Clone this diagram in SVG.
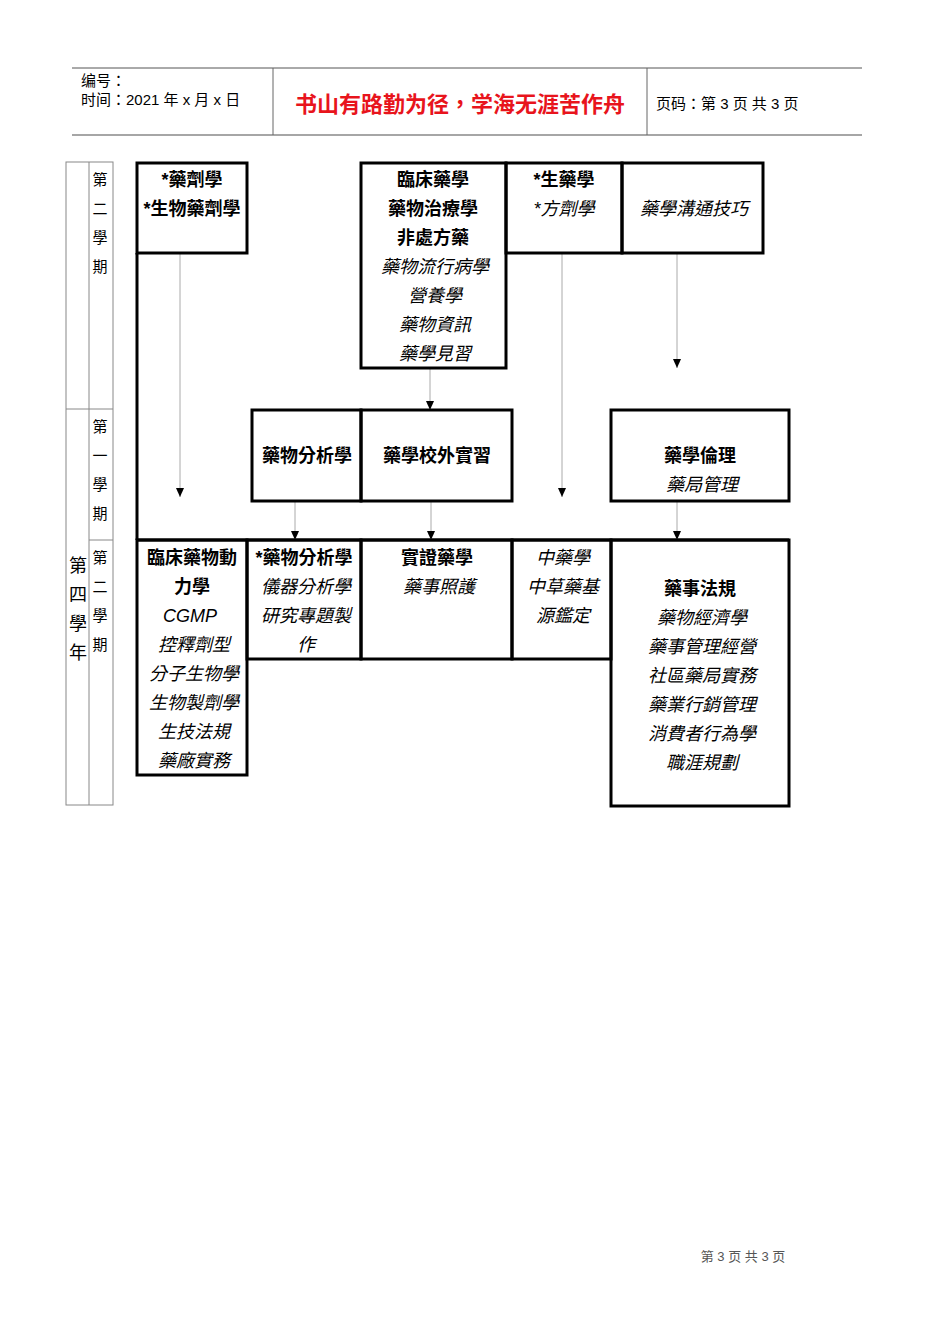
<svg xmlns="http://www.w3.org/2000/svg" width="950" height="1344" viewBox="0 0 950 1344">
<style>
text{font-family:"Liberation Sans","Noto Sans CJK TC",sans-serif;fill:#000}
.t{font-size:18px;text-anchor:middle}
.b{font-weight:bold}
.i{font-style:italic}
.box{fill:none;stroke:#000;stroke-width:3}
.thin{stroke:#888;stroke-width:1;fill:none}
.cn{stroke:#aaa;stroke-width:1;fill:none;marker-end:url(#ah)}
.side{font-size:15px;text-anchor:middle}
</style>
<defs><marker id="ah" markerWidth="10" markerHeight="10" refX="9" refY="5" orient="auto" markerUnits="userSpaceOnUse"><path d="M0,1 L9,5 L0,9 Z" fill="#000"/></marker></defs>
<rect width="950" height="1344" fill="#fff"/>
<g id="header">
<line x1="72" y1="68" x2="862" y2="68" stroke="#555" stroke-width="1"/>
<line x1="72" y1="135" x2="862" y2="135" stroke="#888" stroke-width="1.5"/>
<line x1="273" y1="68" x2="273" y2="135" stroke="#666"/>
<line x1="647" y1="68" x2="647" y2="135" stroke="#666"/>
<text x="81" y="86" font-size="15">编号：</text>
<text x="81" y="105" font-size="15">时间：2021 年 x 月 x 日</text>
<text x="460" y="112" font-size="22" font-weight="bold" fill="#e00" style="fill:#e8141c" text-anchor="middle">书山有路勤为径，学海无涯苦作舟</text>
<text x="656" y="109" font-size="15">页码：第 3 页  共 3 页</text>
</g>
<g id="sidebar">
<rect x="66" y="162" width="47" height="643" class="thin"/>
<line x1="89" y1="162" x2="89" y2="805" class="thin"/>
<line x1="66" y1="409" x2="113" y2="409" class="thin"/>
<line x1="89" y1="540" x2="113" y2="540" class="thin"/>
<text class="side" x="100" y="185">第</text><text class="side" x="100" y="214">二</text><text class="side" x="100" y="243">學</text><text class="side" x="100" y="272">期</text>
<text class="side" x="100" y="432">第</text><text class="side" x="100" y="461">一</text><text class="side" x="100" y="490">學</text><text class="side" x="100" y="519">期</text>
<text class="side" x="100" y="563">第</text><text class="side" x="100" y="592">二</text><text class="side" x="100" y="621">學</text><text class="side" x="100" y="650">期</text>
<text x="78" y="572" font-size="18" text-anchor="middle">第</text><text x="78" y="601" font-size="18" text-anchor="middle">四</text><text x="78" y="630" font-size="18" text-anchor="middle">學</text><text x="78" y="659" font-size="18" text-anchor="middle">年</text>
</g>
<g id="connectors">
<line x1="137" y1="253" x2="137" y2="540" stroke="#000" stroke-width="3"/>
<line x1="137" y1="540" x2="789" y2="540" stroke="#000" stroke-width="3"/>
<line class="cn" x1="180" y1="253" x2="180" y2="497"/>
<line class="cn" x1="430" y1="368" x2="430" y2="410"/>
<line class="cn" x1="562" y1="253" x2="562" y2="497"/>
<line class="cn" x1="677" y1="253" x2="677" y2="368"/>
<line class="cn" x1="295" y1="501" x2="295" y2="540"/>
<line class="cn" x1="431" y1="501" x2="431" y2="540"/>
<line class="cn" x1="677" y1="501" x2="677" y2="540"/>
</g>
<g id="n1"><rect class="box" x="137" y="163" width="110" height="90"/>
<text class="t b" x="192" y="186">*藥劑學</text><text class="t b" x="192" y="215">*生物藥劑學</text></g>
<g id="n2"><rect class="box" x="361" y="163" width="145" height="205"/>
<text class="t b" x="433" y="186">臨床藥學</text><text class="t b" x="433" y="215">藥物治療學</text><text class="t b" x="433" y="244">非處方藥</text>
<text class="t i" x="435" y="273">藥物流行病學</text><text class="t i" x="435" y="302">營養學</text><text class="t i" x="435" y="331">藥物資訊</text><text class="t i" x="435" y="360">藥學見習</text></g>
<g id="n3"><rect class="box" x="506" y="163" width="116" height="90"/>
<text class="t b" x="564" y="186">*生藥學</text><text class="t i" x="564" y="215">*方劑學</text></g>
<g id="n4"><rect class="box" x="622" y="163" width="141" height="90"/>
<text class="t i" x="694" y="215">藥學溝通技巧</text></g>
<g id="n5"><rect class="box" x="252" y="410" width="109" height="91"/>
<text class="t b" x="307" y="462">藥物分析學</text></g>
<g id="n6"><rect class="box" x="361" y="410" width="151" height="91"/>
<text class="t b" x="437" y="462">藥學校外實習</text></g>
<g id="n7"><rect class="box" x="611" y="410" width="178" height="91"/>
<text class="t b" x="700" y="462">藥學倫理</text><text class="t i" x="702" y="491">藥局管理</text></g>
<g id="n8"><rect class="box" x="137" y="540" width="110" height="235"/>
<text class="t b" x="192" y="564">臨床藥物動</text><text class="t b" x="192" y="593">力學</text><text class="t i" x="190" y="622">CGMP</text>
<text class="t i" x="194" y="651">控釋劑型</text><text class="t i" x="194" y="680">分子生物學</text><text class="t i" x="194" y="709">生物製劑學</text><text class="t i" x="194" y="738">生技法規</text><text class="t i" x="194" y="767">藥廠實務</text></g>
<g id="n9"><rect class="box" x="247" y="540" width="114" height="119"/>
<text class="t b" x="304" y="564">*藥物分析學</text><text class="t i" x="306" y="593">儀器分析學</text><text class="t i" x="306" y="622">研究專題製</text><text class="t i" x="306" y="651">作</text></g>
<g id="n10"><rect class="box" x="361" y="540" width="151" height="119"/>
<text class="t b" x="437" y="564">實證藥學</text><text class="t i" x="439" y="593">藥事照護</text></g>
<g id="n11"><rect class="box" x="512" y="540" width="99" height="119"/>
<text class="t i" x="563" y="564">中藥學</text><text class="t i" x="563" y="593">中草藥基</text><text class="t i" x="563" y="622">源鑑定</text></g>
<g id="n12"><rect class="box" x="611" y="540" width="178" height="266"/>
<text class="t b" x="700" y="595">藥事法規</text><text class="t i" x="702" y="624">藥物經濟學</text><text class="t i" x="702" y="653">藥事管理經營</text><text class="t i" x="702" y="682">社區藥局實務</text><text class="t i" x="702" y="711">藥業行銷管理</text><text class="t i" x="702" y="740">消費者行為學</text><text class="t i" x="702" y="769">職涯規劃</text></g>
<text x="743" y="1261" font-size="13" fill="#555" style="fill:#555" text-anchor="middle">第 3 页 共 3 页</text>
</svg>
